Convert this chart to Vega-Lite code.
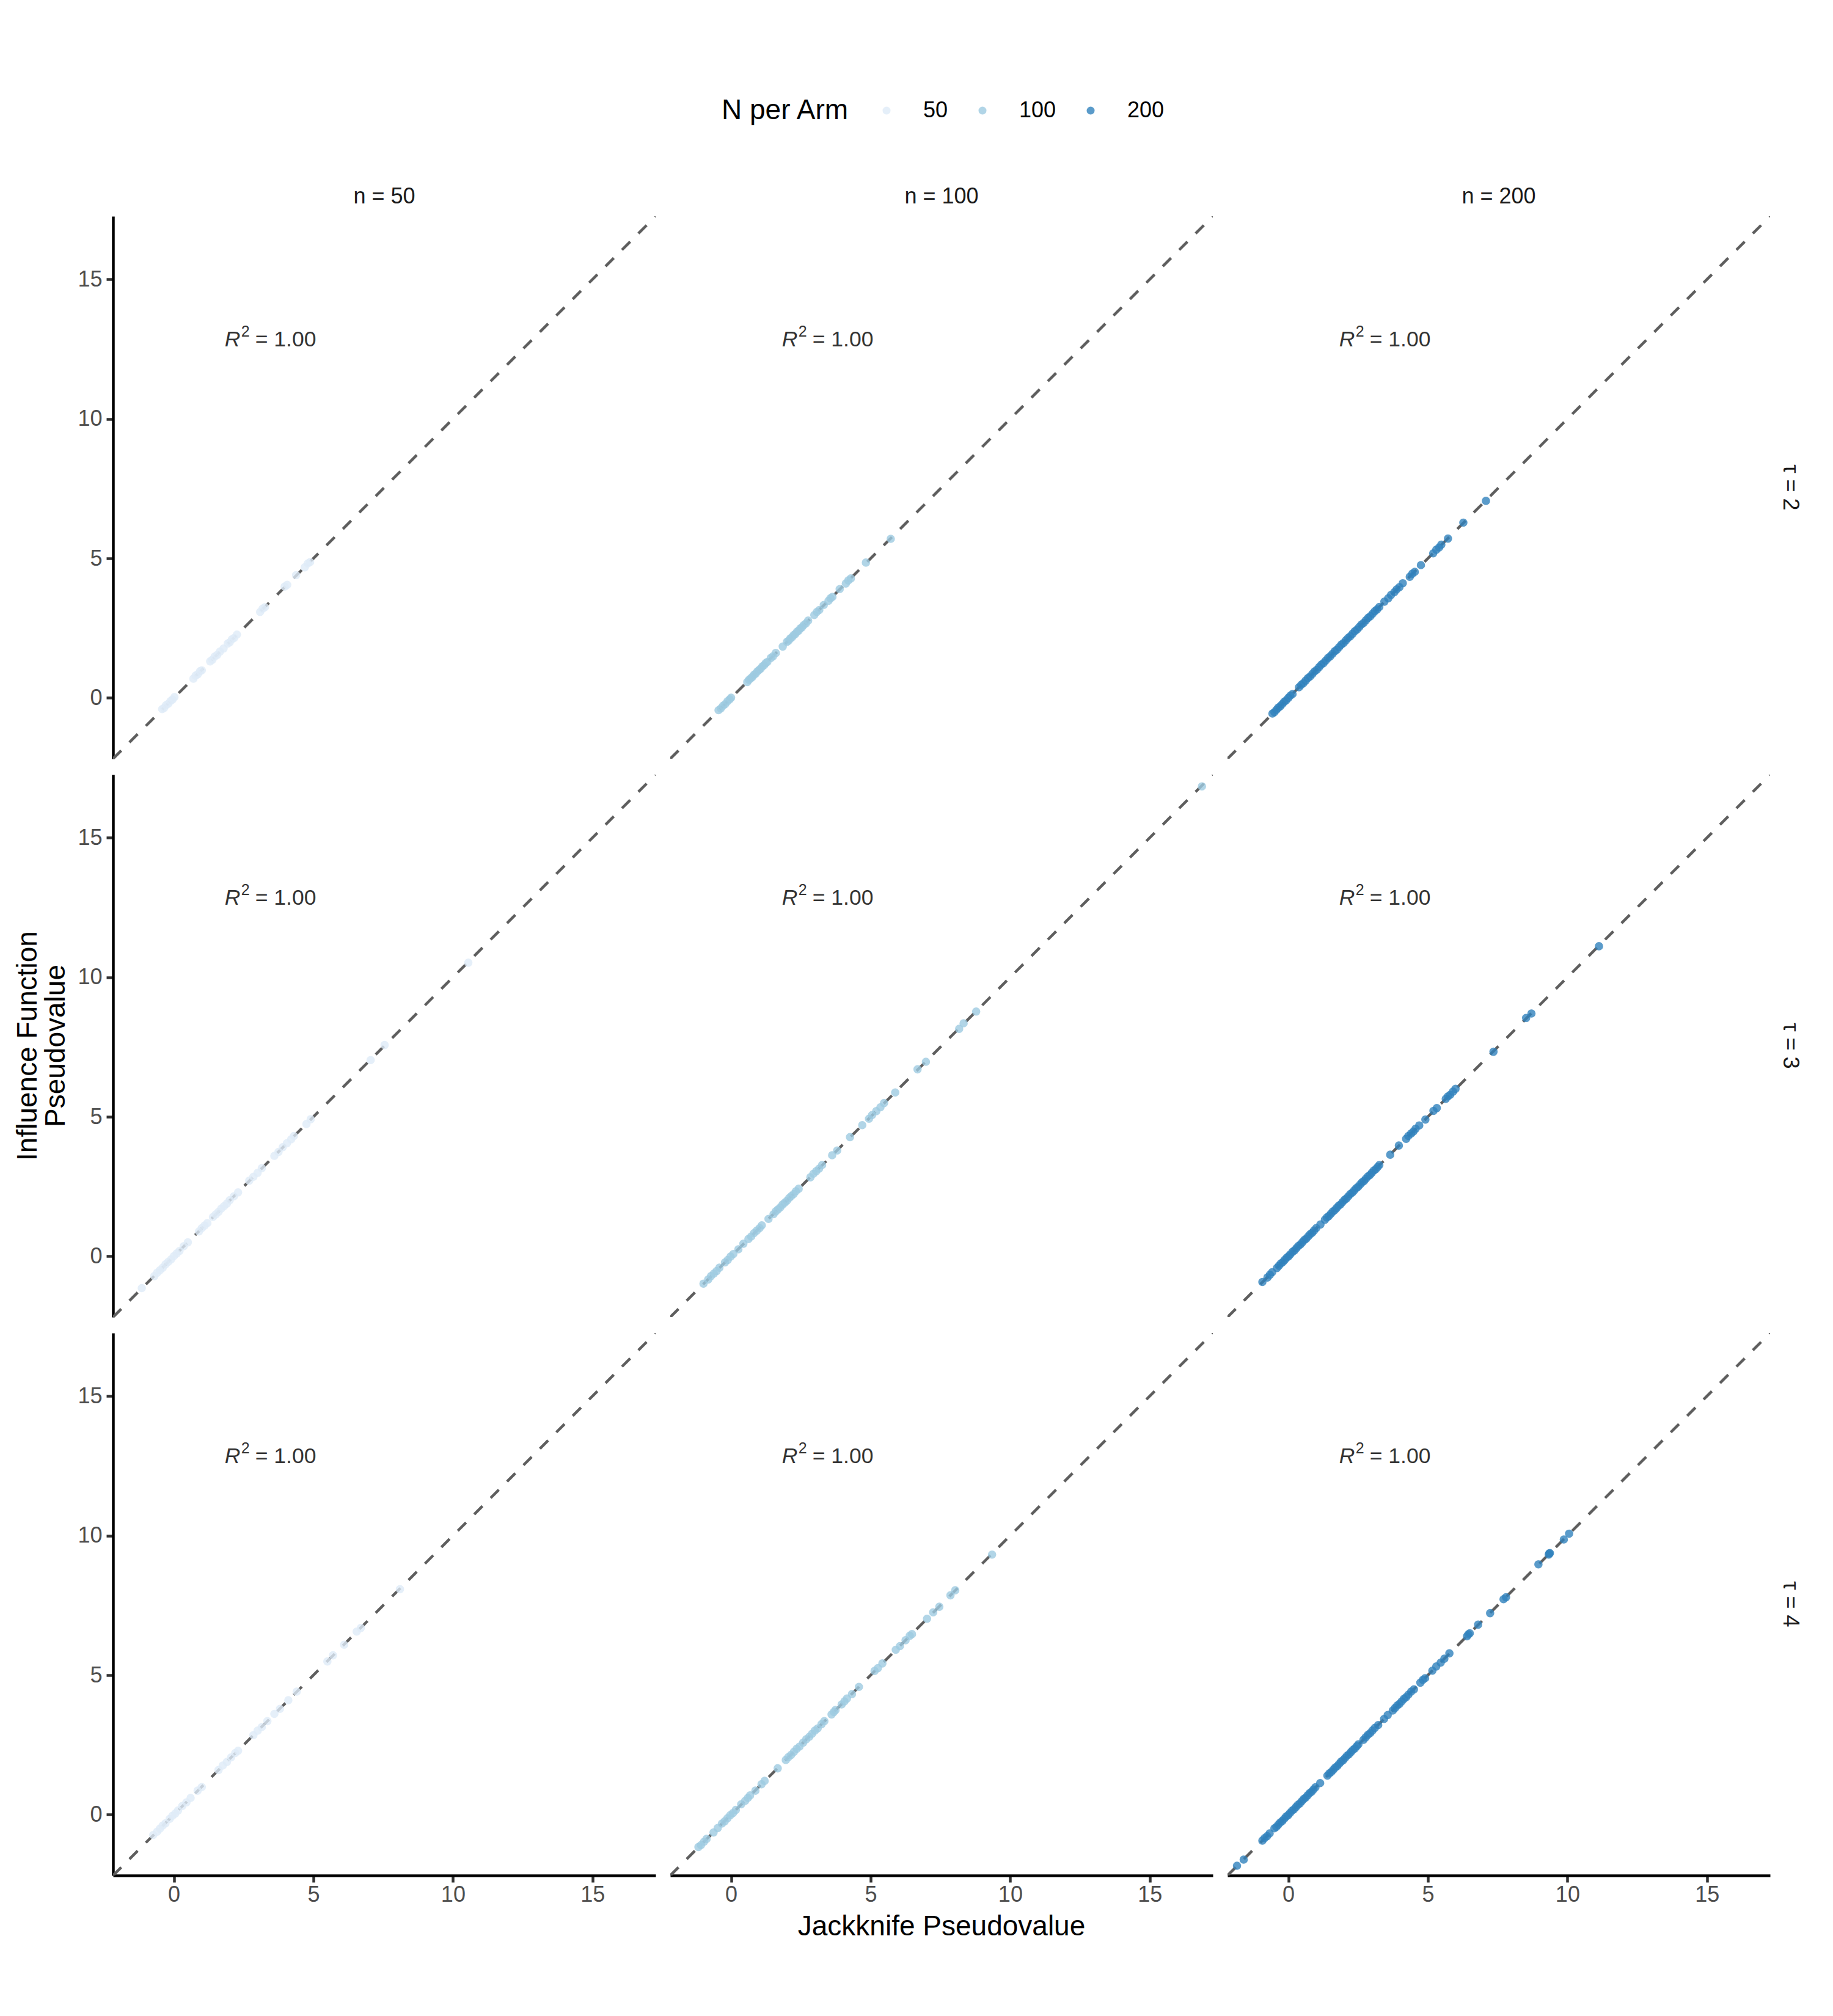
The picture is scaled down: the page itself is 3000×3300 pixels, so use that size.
{
  "$schema": "https://vega.github.io/schema/vega-lite/v6.json",
  "background": "white",
  "padding": {"left": 22, "top": 163, "right": 5, "bottom": 5},
  "data": {"values": [
    {"k":"l","t":2,"n":50,"x":-2.18,"y":-2.18},{"k":"l","t":2,"n":50,"x":17.26,"y":17.26},
    {"k":"l","t":2,"n":100,"x":-2.18,"y":-2.18},{"k":"l","t":2,"n":100,"x":17.26,"y":17.26},
    {"k":"l","t":2,"n":200,"x":-2.18,"y":-2.18},{"k":"l","t":2,"n":200,"x":17.26,"y":17.26},
    {"k":"l","t":3,"n":50,"x":-2.18,"y":-2.18},{"k":"l","t":3,"n":50,"x":17.26,"y":17.26},
    {"k":"l","t":3,"n":100,"x":-2.18,"y":-2.18},{"k":"l","t":3,"n":100,"x":17.26,"y":17.26},
    {"k":"l","t":3,"n":200,"x":-2.18,"y":-2.18},{"k":"l","t":3,"n":200,"x":17.26,"y":17.26},
    {"k":"l","t":4,"n":50,"x":-2.18,"y":-2.18},{"k":"l","t":4,"n":50,"x":17.26,"y":17.26},
    {"k":"l","t":4,"n":100,"x":-2.18,"y":-2.18},{"k":"l","t":4,"n":100,"x":17.26,"y":17.26},
    {"k":"l","t":4,"n":200,"x":-2.18,"y":-2.18},{"k":"l","t":4,"n":200,"x":17.26,"y":17.26},
    {"k":"r","t":2,"n":50,"x":1.82,"y":12.6},{"k":"r","t":2,"n":100,"x":1.82,"y":12.6},{"k":"r","t":2,"n":200,"x":1.82,"y":12.6},
    {"k":"r","t":3,"n":50,"x":1.82,"y":12.6},{"k":"r","t":3,"n":100,"x":1.82,"y":12.6},{"k":"r","t":3,"n":200,"x":1.82,"y":12.6},
    {"k":"r","t":4,"n":50,"x":1.82,"y":12.6},{"k":"r","t":4,"n":100,"x":1.82,"y":12.6},{"k":"r","t":4,"n":200,"x":1.82,"y":12.6},

    {"t":2,"n":50,"x":-0.42,"y":-0.4},{"t":2,"n":50,"x":-0.35,"y":-0.36},{"t":2,"n":50,"x":-0.28,"y":-0.26},{"t":2,"n":50,"x":-0.2,"y":-0.21},
    {"t":2,"n":50,"x":-0.12,"y":-0.11},{"t":2,"n":50,"x":-0.05,"y":-0.06},{"t":2,"n":50,"x":0.02,"y":0.03},{"t":2,"n":50,"x":0.7,"y":0.69},
    {"t":2,"n":50,"x":0.78,"y":0.8},{"t":2,"n":50,"x":0.86,"y":0.85},{"t":2,"n":50,"x":0.94,"y":0.96},{"t":2,"n":50,"x":1.0,"y":0.99},
    {"t":2,"n":50,"x":1.3,"y":1.31},{"t":2,"n":50,"x":1.38,"y":1.37},{"t":2,"n":50,"x":1.46,"y":1.48},{"t":2,"n":50,"x":1.55,"y":1.54},
    {"t":2,"n":50,"x":1.65,"y":1.66},{"t":2,"n":50,"x":1.78,"y":1.77},{"t":2,"n":50,"x":1.93,"y":1.95},{"t":2,"n":50,"x":2.0,"y":1.99},
    {"t":2,"n":50,"x":2.08,"y":2.1},{"t":2,"n":50,"x":2.16,"y":2.15},{"t":2,"n":50,"x":2.26,"y":2.27},{"t":2,"n":50,"x":3.09,"y":3.08},
    {"t":2,"n":50,"x":3.18,"y":3.2},{"t":2,"n":50,"x":3.26,"y":3.25},{"t":2,"n":50,"x":3.97,"y":3.99},{"t":2,"n":50,"x":4.06,"y":4.05},
    {"t":2,"n":50,"x":4.38,"y":4.4},{"t":2,"n":50,"x":4.69,"y":4.68},{"t":2,"n":50,"x":4.8,"y":4.82},{"t":2,"n":50,"x":4.88,"y":4.87},

    {"t":2,"n":100,"x":-0.45,"y":-0.44},{"t":2,"n":100,"x":-0.37,"y":-0.38},{"t":2,"n":100,"x":-0.29,"y":-0.28},{"t":2,"n":100,"x":-0.21,"y":-0.22},
    {"t":2,"n":100,"x":-0.13,"y":-0.12},{"t":2,"n":100,"x":-0.05,"y":-0.05},{"t":2,"n":100,"x":0.0,"y":0.01},{"t":2,"n":100,"x":0.58,"y":0.57},
    {"t":2,"n":100,"x":0.64,"y":0.65},{"t":2,"n":100,"x":0.7,"y":0.7},{"t":2,"n":100,"x":0.76,"y":0.75},{"t":2,"n":100,"x":0.82,"y":0.83},
    {"t":2,"n":100,"x":0.88,"y":0.87},{"t":2,"n":100,"x":0.94,"y":0.95},{"t":2,"n":100,"x":1.0,"y":1.0},{"t":2,"n":100,"x":1.06,"y":1.05},
    {"t":2,"n":100,"x":1.12,"y":1.13},{"t":2,"n":100,"x":1.18,"y":1.17},{"t":2,"n":100,"x":1.24,"y":1.25},{"t":2,"n":100,"x":1.3,"y":1.29},
    {"t":2,"n":100,"x":1.42,"y":1.43},{"t":2,"n":100,"x":1.5,"y":1.49},{"t":2,"n":100,"x":1.6,"y":1.61},{"t":2,"n":100,"x":1.85,"y":1.84},
    {"t":2,"n":100,"x":2.0,"y":2.01},{"t":2,"n":100,"x":2.06,"y":2.05},{"t":2,"n":100,"x":2.12,"y":2.13},{"t":2,"n":100,"x":2.18,"y":2.17},
    {"t":2,"n":100,"x":2.24,"y":2.25},{"t":2,"n":100,"x":2.3,"y":2.29},{"t":2,"n":100,"x":2.36,"y":2.37},{"t":2,"n":100,"x":2.42,"y":2.41},
    {"t":2,"n":100,"x":2.48,"y":2.49},{"t":2,"n":100,"x":2.54,"y":2.53},{"t":2,"n":100,"x":2.6,"y":2.61},{"t":2,"n":100,"x":2.68,"y":2.67},
    {"t":2,"n":100,"x":2.76,"y":2.77},{"t":2,"n":100,"x":2.98,"y":2.97},{"t":2,"n":100,"x":3.07,"y":3.08},{"t":2,"n":100,"x":3.16,"y":3.15},
    {"t":2,"n":100,"x":3.32,"y":3.33},{"t":2,"n":100,"x":3.49,"y":3.48},{"t":2,"n":100,"x":3.56,"y":3.57},{"t":2,"n":100,"x":3.63,"y":3.62},
    {"t":2,"n":100,"x":3.89,"y":3.9},{"t":2,"n":100,"x":4.11,"y":4.1},{"t":2,"n":100,"x":4.2,"y":4.21},{"t":2,"n":100,"x":4.29,"y":4.28},
    {"t":2,"n":100,"x":4.83,"y":4.85},{"t":2,"n":100,"x":5.72,"y":5.7},

    {"t":2,"n":200,"x":-0.57,"y":-0.56},{"t":2,"n":200,"x":-0.5,"y":-0.51},{"t":2,"n":200,"x":-0.43,"y":-0.43},{"t":2,"n":200,"x":-0.36,"y":-0.35},
    {"t":2,"n":200,"x":-0.29,"y":-0.3},{"t":2,"n":200,"x":-0.22,"y":-0.22},{"t":2,"n":200,"x":-0.15,"y":-0.14},{"t":2,"n":200,"x":-0.08,"y":-0.09},
    {"t":2,"n":200,"x":0.0,"y":0.0},{"t":2,"n":200,"x":0.07,"y":0.08},{"t":2,"n":200,"x":0.15,"y":0.14},{"t":2,"n":200,"x":0.38,"y":0.38},
    {"t":2,"n":200,"x":0.46,"y":0.47},{"t":2,"n":200,"x":0.54,"y":0.53},{"t":2,"n":200,"x":0.62,"y":0.62},{"t":2,"n":200,"x":0.7,"y":0.71},
    {"t":2,"n":200,"x":0.78,"y":0.77},{"t":2,"n":200,"x":0.86,"y":0.86},{"t":2,"n":200,"x":0.94,"y":0.95},{"t":2,"n":200,"x":1.02,"y":1.01},
    {"t":2,"n":200,"x":1.1,"y":1.1},{"t":2,"n":200,"x":1.18,"y":1.19},{"t":2,"n":200,"x":1.26,"y":1.25},{"t":2,"n":200,"x":1.34,"y":1.34},
    {"t":2,"n":200,"x":1.42,"y":1.43},{"t":2,"n":200,"x":1.5,"y":1.49},{"t":2,"n":200,"x":1.58,"y":1.58},{"t":2,"n":200,"x":1.66,"y":1.67},
    {"t":2,"n":200,"x":1.74,"y":1.73},{"t":2,"n":200,"x":1.82,"y":1.82},{"t":2,"n":200,"x":1.9,"y":1.91},{"t":2,"n":200,"x":1.98,"y":1.97},
    {"t":2,"n":200,"x":2.06,"y":2.06},{"t":2,"n":200,"x":2.14,"y":2.15},{"t":2,"n":200,"x":2.22,"y":2.21},{"t":2,"n":200,"x":2.3,"y":2.3},
    {"t":2,"n":200,"x":2.38,"y":2.39},{"t":2,"n":200,"x":2.46,"y":2.45},{"t":2,"n":200,"x":2.54,"y":2.54},{"t":2,"n":200,"x":2.62,"y":2.63},
    {"t":2,"n":200,"x":2.7,"y":2.69},{"t":2,"n":200,"x":2.78,"y":2.78},{"t":2,"n":200,"x":2.86,"y":2.87},{"t":2,"n":200,"x":2.94,"y":2.93},
    {"t":2,"n":200,"x":3.02,"y":3.02},{"t":2,"n":200,"x":3.1,"y":3.11},{"t":2,"n":200,"x":3.18,"y":3.17},{"t":2,"n":200,"x":3.26,"y":3.26},
    {"t":2,"n":200,"x":3.44,"y":3.45},{"t":2,"n":200,"x":3.58,"y":3.57},{"t":2,"n":200,"x":3.68,"y":3.69},{"t":2,"n":200,"x":3.8,"y":3.79},
    {"t":2,"n":200,"x":3.88,"y":3.89},{"t":2,"n":200,"x":3.98,"y":3.97},{"t":2,"n":200,"x":4.1,"y":4.11},{"t":2,"n":200,"x":4.35,"y":4.34},
    {"t":2,"n":200,"x":4.44,"y":4.45},{"t":2,"n":200,"x":4.53,"y":4.52},{"t":2,"n":200,"x":4.75,"y":4.76},{"t":2,"n":200,"x":5.19,"y":5.18},
    {"t":2,"n":200,"x":5.3,"y":5.31},{"t":2,"n":200,"x":5.4,"y":5.39},{"t":2,"n":200,"x":5.48,"y":5.49},{"t":2,"n":200,"x":5.72,"y":5.71},
    {"t":2,"n":200,"x":6.27,"y":6.28},{"t":2,"n":200,"x":7.08,"y":7.06},

    {"t":3,"n":50,"x":-1.15,"y":-1.14},{"t":3,"n":50,"x":-0.7,"y":-0.71},{"t":3,"n":50,"x":-0.6,"y":-0.59},{"t":3,"n":50,"x":-0.5,"y":-0.5},
    {"t":3,"n":50,"x":-0.4,"y":-0.41},{"t":3,"n":50,"x":-0.3,"y":-0.29},{"t":3,"n":50,"x":-0.2,"y":-0.2},{"t":3,"n":50,"x":-0.1,"y":-0.11},
    {"t":3,"n":50,"x":0.0,"y":0.01},{"t":3,"n":50,"x":0.1,"y":0.1},{"t":3,"n":50,"x":0.2,"y":0.19},{"t":3,"n":50,"x":0.35,"y":0.36},
    {"t":3,"n":50,"x":0.5,"y":0.5},{"t":3,"n":50,"x":0.9,"y":0.89},{"t":3,"n":50,"x":1.0,"y":1.01},{"t":3,"n":50,"x":1.1,"y":1.1},
    {"t":3,"n":50,"x":1.2,"y":1.19},{"t":3,"n":50,"x":1.4,"y":1.41},{"t":3,"n":50,"x":1.5,"y":1.5},{"t":3,"n":50,"x":1.6,"y":1.59},
    {"t":3,"n":50,"x":1.7,"y":1.71},{"t":3,"n":50,"x":1.8,"y":1.8},{"t":3,"n":50,"x":1.9,"y":1.89},{"t":3,"n":50,"x":2.0,"y":2.01},
    {"t":3,"n":50,"x":2.15,"y":2.15},{"t":3,"n":50,"x":2.3,"y":2.29},{"t":3,"n":50,"x":2.7,"y":2.71},{"t":3,"n":50,"x":2.85,"y":2.85},
    {"t":3,"n":50,"x":3.0,"y":2.99},{"t":3,"n":50,"x":3.15,"y":3.16},{"t":3,"n":50,"x":3.6,"y":3.6},{"t":3,"n":50,"x":3.75,"y":3.74},
    {"t":3,"n":50,"x":3.9,"y":3.91},{"t":3,"n":50,"x":4.05,"y":4.05},{"t":3,"n":50,"x":4.2,"y":4.19},{"t":3,"n":50,"x":4.3,"y":4.31},
    {"t":3,"n":50,"x":4.75,"y":4.74},{"t":3,"n":50,"x":4.9,"y":4.91},{"t":3,"n":50,"x":7.05,"y":7.03},{"t":3,"n":50,"x":7.55,"y":7.57},
    {"t":3,"n":50,"x":10.55,"y":10.52},

    {"t":3,"n":100,"x":-0.99,"y":-0.98},{"t":3,"n":100,"x":-0.82,"y":-0.83},{"t":3,"n":100,"x":-0.72,"y":-0.71},{"t":3,"n":100,"x":-0.62,"y":-0.62},
    {"t":3,"n":100,"x":-0.52,"y":-0.53},{"t":3,"n":100,"x":-0.42,"y":-0.41},{"t":3,"n":100,"x":-0.22,"y":-0.22},{"t":3,"n":100,"x":-0.12,"y":-0.13},
    {"t":3,"n":100,"x":-0.02,"y":-0.01},{"t":3,"n":100,"x":0.08,"y":0.08},{"t":3,"n":100,"x":0.26,"y":0.25},{"t":3,"n":100,"x":0.44,"y":0.45},
    {"t":3,"n":100,"x":0.62,"y":0.62},{"t":3,"n":100,"x":0.72,"y":0.71},{"t":3,"n":100,"x":0.82,"y":0.83},{"t":3,"n":100,"x":0.92,"y":0.92},
    {"t":3,"n":100,"x":1.02,"y":1.01},{"t":3,"n":100,"x":1.1,"y":1.11},{"t":3,"n":100,"x":1.34,"y":1.34},{"t":3,"n":100,"x":1.52,"y":1.51},
    {"t":3,"n":100,"x":1.6,"y":1.61},{"t":3,"n":100,"x":1.68,"y":1.68},{"t":3,"n":100,"x":1.76,"y":1.75},{"t":3,"n":100,"x":1.84,"y":1.85},
    {"t":3,"n":100,"x":1.92,"y":1.92},{"t":3,"n":100,"x":2.0,"y":1.99},{"t":3,"n":100,"x":2.08,"y":2.09},{"t":3,"n":100,"x":2.16,"y":2.16},
    {"t":3,"n":100,"x":2.24,"y":2.23},{"t":3,"n":100,"x":2.32,"y":2.33},{"t":3,"n":100,"x":2.42,"y":2.42},{"t":3,"n":100,"x":2.84,"y":2.83},
    {"t":3,"n":100,"x":2.95,"y":2.96},{"t":3,"n":100,"x":3.05,"y":3.05},{"t":3,"n":100,"x":3.15,"y":3.14},{"t":3,"n":100,"x":3.26,"y":3.27},
    {"t":3,"n":100,"x":3.62,"y":3.62},{"t":3,"n":100,"x":3.8,"y":3.79},{"t":3,"n":100,"x":4.26,"y":4.27},{"t":3,"n":100,"x":4.7,"y":4.7},
    {"t":3,"n":100,"x":4.94,"y":4.93},{"t":3,"n":100,"x":5.05,"y":5.06},{"t":3,"n":100,"x":5.2,"y":5.2},{"t":3,"n":100,"x":5.35,"y":5.34},
    {"t":3,"n":100,"x":5.48,"y":5.49},{"t":3,"n":100,"x":5.88,"y":5.87},{"t":3,"n":100,"x":6.68,"y":6.7},{"t":3,"n":100,"x":6.98,"y":6.97},
    {"t":3,"n":100,"x":8.17,"y":8.15},{"t":3,"n":100,"x":8.33,"y":8.35},{"t":3,"n":100,"x":8.78,"y":8.77},{"t":3,"n":100,"x":16.87,"y":16.84},

    {"t":3,"n":200,"x":-0.93,"y":-0.92},{"t":3,"n":200,"x":-0.75,"y":-0.76},{"t":3,"n":200,"x":-0.66,"y":-0.66},{"t":3,"n":200,"x":-0.58,"y":-0.57},
    {"t":3,"n":200,"x":-0.41,"y":-0.42},{"t":3,"n":200,"x":-0.34,"y":-0.34},{"t":3,"n":200,"x":-0.27,"y":-0.26},{"t":3,"n":200,"x":-0.2,"y":-0.21},
    {"t":3,"n":200,"x":-0.13,"y":-0.13},{"t":3,"n":200,"x":-0.06,"y":-0.05},{"t":3,"n":200,"x":0.01,"y":0.0},{"t":3,"n":200,"x":0.07,"y":0.07},
    {"t":3,"n":200,"x":0.15,"y":0.16},{"t":3,"n":200,"x":0.22,"y":0.21},{"t":3,"n":200,"x":0.29,"y":0.29},{"t":3,"n":200,"x":0.36,"y":0.37},
    {"t":3,"n":200,"x":0.43,"y":0.42},{"t":3,"n":200,"x":0.5,"y":0.5},{"t":3,"n":200,"x":0.57,"y":0.58},{"t":3,"n":200,"x":0.64,"y":0.63},
    {"t":3,"n":200,"x":0.71,"y":0.71},{"t":3,"n":200,"x":0.78,"y":0.79},{"t":3,"n":200,"x":0.85,"y":0.84},{"t":3,"n":200,"x":0.92,"y":0.92},
    {"t":3,"n":200,"x":1.0,"y":1.01},{"t":3,"n":200,"x":1.15,"y":1.14},{"t":3,"n":200,"x":1.31,"y":1.31},{"t":3,"n":200,"x":1.38,"y":1.39},
    {"t":3,"n":200,"x":1.45,"y":1.44},{"t":3,"n":200,"x":1.52,"y":1.52},{"t":3,"n":200,"x":1.59,"y":1.6},{"t":3,"n":200,"x":1.66,"y":1.65},
    {"t":3,"n":200,"x":1.73,"y":1.73},{"t":3,"n":200,"x":1.8,"y":1.81},{"t":3,"n":200,"x":1.87,"y":1.86},{"t":3,"n":200,"x":1.94,"y":1.94},
    {"t":3,"n":200,"x":2.01,"y":2.02},{"t":3,"n":200,"x":2.08,"y":2.07},{"t":3,"n":200,"x":2.15,"y":2.15},{"t":3,"n":200,"x":2.22,"y":2.23},
    {"t":3,"n":200,"x":2.29,"y":2.28},{"t":3,"n":200,"x":2.36,"y":2.36},{"t":3,"n":200,"x":2.43,"y":2.44},{"t":3,"n":200,"x":2.5,"y":2.49},
    {"t":3,"n":200,"x":2.57,"y":2.57},{"t":3,"n":200,"x":2.64,"y":2.65},{"t":3,"n":200,"x":2.71,"y":2.7},{"t":3,"n":200,"x":2.78,"y":2.78},
    {"t":3,"n":200,"x":2.85,"y":2.86},{"t":3,"n":200,"x":2.92,"y":2.91},{"t":3,"n":200,"x":2.99,"y":2.99},{"t":3,"n":200,"x":3.06,"y":3.07},
    {"t":3,"n":200,"x":3.13,"y":3.12},{"t":3,"n":200,"x":3.2,"y":3.2},{"t":3,"n":200,"x":3.26,"y":3.27},{"t":3,"n":200,"x":3.65,"y":3.64},
    {"t":3,"n":200,"x":3.96,"y":3.97},{"t":3,"n":200,"x":4.22,"y":4.21},{"t":3,"n":200,"x":4.3,"y":4.31},{"t":3,"n":200,"x":4.4,"y":4.4},
    {"t":3,"n":200,"x":4.48,"y":4.47},{"t":3,"n":200,"x":4.56,"y":4.57},{"t":3,"n":200,"x":4.69,"y":4.69},{"t":3,"n":200,"x":4.91,"y":4.9},
    {"t":3,"n":200,"x":5.2,"y":5.21},{"t":3,"n":200,"x":5.32,"y":5.31},{"t":3,"n":200,"x":5.64,"y":5.64},{"t":3,"n":200,"x":5.72,"y":5.73},
    {"t":3,"n":200,"x":5.8,"y":5.79},{"t":3,"n":200,"x":5.9,"y":5.9},{"t":3,"n":200,"x":5.99,"y":6.0},{"t":3,"n":200,"x":7.35,"y":7.33},
    {"t":3,"n":200,"x":8.52,"y":8.54},{"t":3,"n":200,"x":8.71,"y":8.7},{"t":3,"n":200,"x":11.13,"y":11.11},

    {"t":4,"n":50,"x":-0.74,"y":-0.73},{"t":4,"n":50,"x":-0.6,"y":-0.61},{"t":4,"n":50,"x":-0.5,"y":-0.5},{"t":4,"n":50,"x":-0.4,"y":-0.39},
    {"t":4,"n":50,"x":-0.3,"y":-0.31},{"t":4,"n":50,"x":-0.15,"y":-0.15},{"t":4,"n":50,"x":-0.05,"y":-0.04},{"t":4,"n":50,"x":0.05,"y":0.04},
    {"t":4,"n":50,"x":0.15,"y":0.15},{"t":4,"n":50,"x":0.3,"y":0.31},{"t":4,"n":50,"x":0.45,"y":0.44},{"t":4,"n":50,"x":0.6,"y":0.6},
    {"t":4,"n":50,"x":0.85,"y":0.86},{"t":4,"n":50,"x":1.0,"y":0.99},{"t":4,"n":50,"x":1.6,"y":1.6},{"t":4,"n":50,"x":1.75,"y":1.76},
    {"t":4,"n":50,"x":1.9,"y":1.89},{"t":4,"n":50,"x":2.05,"y":2.05},{"t":4,"n":50,"x":2.2,"y":2.21},{"t":4,"n":50,"x":2.3,"y":2.29},
    {"t":4,"n":50,"x":2.85,"y":2.85},{"t":4,"n":50,"x":3.0,"y":3.01},{"t":4,"n":50,"x":3.15,"y":3.14},{"t":4,"n":50,"x":3.35,"y":3.35},
    {"t":4,"n":50,"x":3.6,"y":3.61},{"t":4,"n":50,"x":3.8,"y":3.79},{"t":4,"n":50,"x":4.1,"y":4.1},{"t":4,"n":50,"x":4.4,"y":4.41},
    {"t":4,"n":50,"x":5.5,"y":5.49},{"t":4,"n":50,"x":5.7,"y":5.71},{"t":4,"n":50,"x":6.1,"y":6.09},{"t":4,"n":50,"x":6.55,"y":6.56},
    {"t":4,"n":50,"x":6.7,"y":6.69},{"t":4,"n":50,"x":8.1,"y":8.08},

    {"t":4,"n":100,"x":-1.17,"y":-1.16},{"t":4,"n":100,"x":-1.08,"y":-1.09},{"t":4,"n":100,"x":-0.97,"y":-0.97},{"t":4,"n":100,"x":-0.88,"y":-0.87},
    {"t":4,"n":100,"x":-0.63,"y":-0.64},{"t":4,"n":100,"x":-0.48,"y":-0.48},{"t":4,"n":100,"x":-0.33,"y":-0.32},{"t":4,"n":100,"x":-0.23,"y":-0.24},
    {"t":4,"n":100,"x":-0.13,"y":-0.13},{"t":4,"n":100,"x":-0.03,"y":-0.02},{"t":4,"n":100,"x":0.07,"y":0.06},{"t":4,"n":100,"x":0.17,"y":0.17},
    {"t":4,"n":100,"x":0.36,"y":0.37},{"t":4,"n":100,"x":0.5,"y":0.49},{"t":4,"n":100,"x":0.6,"y":0.6},{"t":4,"n":100,"x":0.68,"y":0.69},
    {"t":4,"n":100,"x":0.87,"y":0.86},{"t":4,"n":100,"x":1.09,"y":1.09},{"t":4,"n":100,"x":1.2,"y":1.21},{"t":4,"n":100,"x":1.67,"y":1.66},
    {"t":4,"n":100,"x":1.96,"y":1.96},{"t":4,"n":100,"x":2.05,"y":2.06},{"t":4,"n":100,"x":2.15,"y":2.14},{"t":4,"n":100,"x":2.25,"y":2.25},
    {"t":4,"n":100,"x":2.35,"y":2.36},{"t":4,"n":100,"x":2.45,"y":2.44},{"t":4,"n":100,"x":2.58,"y":2.58},{"t":4,"n":100,"x":2.69,"y":2.7},
    {"t":4,"n":100,"x":2.8,"y":2.79},{"t":4,"n":100,"x":2.9,"y":2.9},{"t":4,"n":100,"x":3.0,"y":3.01},{"t":4,"n":100,"x":3.1,"y":3.09},
    {"t":4,"n":100,"x":3.24,"y":3.24},{"t":4,"n":100,"x":3.34,"y":3.35},{"t":4,"n":100,"x":3.6,"y":3.59},{"t":4,"n":100,"x":3.68,"y":3.68},
    {"t":4,"n":100,"x":3.74,"y":3.75},{"t":4,"n":100,"x":3.96,"y":3.95},{"t":4,"n":100,"x":4.06,"y":4.06},{"t":4,"n":100,"x":4.15,"y":4.16},
    {"t":4,"n":100,"x":4.33,"y":4.32},{"t":4,"n":100,"x":4.58,"y":4.58},{"t":4,"n":100,"x":5.14,"y":5.15},{"t":4,"n":100,"x":5.26,"y":5.25},
    {"t":4,"n":100,"x":5.42,"y":5.42},{"t":4,"n":100,"x":5.9,"y":5.91},{"t":4,"n":100,"x":6.05,"y":6.04},{"t":4,"n":100,"x":6.25,"y":6.25},
    {"t":4,"n":100,"x":6.4,"y":6.41},{"t":4,"n":100,"x":6.48,"y":6.47},{"t":4,"n":100,"x":7.02,"y":7.02},{"t":4,"n":100,"x":7.24,"y":7.25},
    {"t":4,"n":100,"x":7.46,"y":7.45},{"t":4,"n":100,"x":7.86,"y":7.86},{"t":4,"n":100,"x":8.03,"y":8.04},{"t":4,"n":100,"x":9.35,"y":9.32},

    {"t":4,"n":200,"x":-1.84,"y":-1.83},{"t":4,"n":200,"x":-1.6,"y":-1.61},{"t":4,"n":200,"x":-0.93,"y":-0.93},{"t":4,"n":200,"x":-0.85,"y":-0.84},
    {"t":4,"n":200,"x":-0.76,"y":-0.77},{"t":4,"n":200,"x":-0.67,"y":-0.67},{"t":4,"n":200,"x":-0.5,"y":-0.49},{"t":4,"n":200,"x":-0.43,"y":-0.44},
    {"t":4,"n":200,"x":-0.36,"y":-0.36},{"t":4,"n":200,"x":-0.29,"y":-0.28},{"t":4,"n":200,"x":-0.22,"y":-0.23},{"t":4,"n":200,"x":-0.15,"y":-0.15},
    {"t":4,"n":200,"x":-0.08,"y":-0.07},{"t":4,"n":200,"x":-0.01,"y":-0.02},{"t":4,"n":200,"x":0.06,"y":0.06},{"t":4,"n":200,"x":0.13,"y":0.14},
    {"t":4,"n":200,"x":0.2,"y":0.19},{"t":4,"n":200,"x":0.27,"y":0.27},{"t":4,"n":200,"x":0.34,"y":0.35},{"t":4,"n":200,"x":0.41,"y":0.4},
    {"t":4,"n":200,"x":0.48,"y":0.48},{"t":4,"n":200,"x":0.55,"y":0.56},{"t":4,"n":200,"x":0.62,"y":0.61},{"t":4,"n":200,"x":0.69,"y":0.69},
    {"t":4,"n":200,"x":0.76,"y":0.77},{"t":4,"n":200,"x":0.83,"y":0.82},{"t":4,"n":200,"x":0.9,"y":0.9},{"t":4,"n":200,"x":0.97,"y":0.98},
    {"t":4,"n":200,"x":1.14,"y":1.13},{"t":4,"n":200,"x":1.4,"y":1.4},{"t":4,"n":200,"x":1.47,"y":1.48},{"t":4,"n":200,"x":1.54,"y":1.53},
    {"t":4,"n":200,"x":1.61,"y":1.61},{"t":4,"n":200,"x":1.68,"y":1.69},{"t":4,"n":200,"x":1.75,"y":1.74},{"t":4,"n":200,"x":1.82,"y":1.82},
    {"t":4,"n":200,"x":1.89,"y":1.9},{"t":4,"n":200,"x":1.96,"y":1.95},{"t":4,"n":200,"x":2.03,"y":2.03},{"t":4,"n":200,"x":2.1,"y":2.11},
    {"t":4,"n":200,"x":2.17,"y":2.16},{"t":4,"n":200,"x":2.24,"y":2.24},{"t":4,"n":200,"x":2.31,"y":2.32},{"t":4,"n":200,"x":2.38,"y":2.37},
    {"t":4,"n":200,"x":2.45,"y":2.45},{"t":4,"n":200,"x":2.51,"y":2.52},{"t":4,"n":200,"x":2.69,"y":2.68},{"t":4,"n":200,"x":2.77,"y":2.77},
    {"t":4,"n":200,"x":2.85,"y":2.86},{"t":4,"n":200,"x":2.93,"y":2.92},{"t":4,"n":200,"x":3.01,"y":3.01},{"t":4,"n":200,"x":3.1,"y":3.11},
    {"t":4,"n":200,"x":3.22,"y":3.21},{"t":4,"n":200,"x":3.43,"y":3.43},{"t":4,"n":200,"x":3.56,"y":3.57},{"t":4,"n":200,"x":3.74,"y":3.73},
    {"t":4,"n":200,"x":3.82,"y":3.82},{"t":4,"n":200,"x":3.9,"y":3.91},{"t":4,"n":200,"x":3.98,"y":3.97},{"t":4,"n":200,"x":4.06,"y":4.06},
    {"t":4,"n":200,"x":4.14,"y":4.15},{"t":4,"n":200,"x":4.22,"y":4.21},{"t":4,"n":200,"x":4.3,"y":4.3},{"t":4,"n":200,"x":4.4,"y":4.41},
    {"t":4,"n":200,"x":4.5,"y":4.49},{"t":4,"n":200,"x":4.73,"y":4.73},{"t":4,"n":200,"x":4.82,"y":4.83},{"t":4,"n":200,"x":4.9,"y":4.89},
    {"t":4,"n":200,"x":5.16,"y":5.16},{"t":4,"n":200,"x":5.3,"y":5.31},{"t":4,"n":200,"x":5.46,"y":5.45},{"t":4,"n":200,"x":5.59,"y":5.59},
    {"t":4,"n":200,"x":5.77,"y":5.78},{"t":4,"n":200,"x":6.4,"y":6.39},{"t":4,"n":200,"x":6.45,"y":6.46},{"t":4,"n":200,"x":6.5,"y":6.5},
    {"t":4,"n":200,"x":6.8,"y":6.81},{"t":4,"n":200,"x":7.23,"y":7.22},{"t":4,"n":200,"x":7.71,"y":7.72},{"t":4,"n":200,"x":7.8,"y":7.79},
    {"t":4,"n":200,"x":8.96,"y":8.97},{"t":4,"n":200,"x":9.33,"y":9.32},{"t":4,"n":200,"x":9.35,"y":9.36},{"t":4,"n":200,"x":9.37,"y":9.37},
    {"t":4,"n":200,"x":9.87,"y":9.86},{"t":4,"n":200,"x":10.06,"y":10.07}
  ]},
  "facet": {
    "row": {"field": "t", "type": "ordinal", "title": ["Influence Function", "Pseudovalue"],
      "header": {"labelExpr": "'τ = ' + datum.value", "labelOrient": "right", "labelAngle": 90, "labelFontSize": 36, "labelColor": "#1a1a1a", "labelPadding": -3, "labelBaseline": "middle", "labelAlign": "center",
        "titleOrient": "left", "titleFontSize": 46, "titleFontWeight": "normal", "titleColor": "#000000", "titleLineHeight": 46, "titlePadding": 0}},
    "column": {"field": "n", "type": "ordinal", "title": "Jackknife Pseudovalue",
      "header": {"labelExpr": "'n = ' + datum.value", "labelOrient": "top", "labelFontSize": 36, "labelColor": "#1a1a1a", "labelPadding": -4, "labelBaseline": "middle",
        "titleOrient": "bottom", "titleFontSize": 46, "titleFontWeight": "normal", "titleColor": "#000000", "titlePadding": 3}}
  },
  "spacing": {"row": 26, "column": 24},
  "spec": {
    "width": 888,
    "height": 888,
    "encoding": {
      "x": {"field": "x", "type": "quantitative", "title": null,
        "scale": {"domain": [-2.18, 17.26], "nice": false, "zero": false},
        "axis": {"values": [0, 5, 10, 15], "labelPadding": 3}},
      "y": {"field": "y", "type": "quantitative", "title": null,
        "scale": {"domain": [-2.18, 17.26], "nice": false, "zero": false},
        "axis": {"values": [0, 5, 10, 15], "labelPadding": 7}}
    },
    "layer": [
      {"transform": [{"filter": "datum.k === 'l'"}],
       "mark": {"type": "line", "color": "#5e5e5e", "strokeWidth": 4.5, "strokeDash": [19, 19], "clip": true},
       "encoding": {}},
      {"transform": [{"filter": "!datum.k"}],
       "mark": {"type": "circle", "size": 185, "opacity": 0.8},
       "encoding": {
         "color": {"field": "n", "type": "ordinal", "title": "N per Arm",
           "scale": {"domain": [50, 100, 200], "range": ["#deebf7", "#9ecae1", "#3182bd"]},
           "legend": {"orient": "none", "direction": "horizontal", "legendX": 996, "legendY": -191, "titleOrient": "left"}}
       }},
      {"transform": [{"filter": "datum.k === 'r'"}],
       "mark": {"type": "text", "text": "R", "fontStyle": "italic", "fontSize": 35.5, "align": "left", "baseline": "alphabetic", "color": "#333333"}},
      {"transform": [{"filter": "datum.k === 'r'"}],
       "mark": {"type": "text", "text": "2", "fontSize": 25, "align": "left", "baseline": "alphabetic", "dx": 27, "dy": -16, "color": "#333333"}},
      {"transform": [{"filter": "datum.k === 'r'"}],
       "mark": {"type": "text", "text": "= 1.00", "fontSize": 35.5, "align": "left", "baseline": "alphabetic", "dx": 50, "color": "#333333"}}
    ]
  },
  "config": {
    "font": "Liberation Sans",
    "view": {"stroke": null},
    "axis": {"grid": false, "domainColor": "#000000", "domainWidth": 4.5, "tickColor": "#333333", "tickWidth": 4.5, "tickSize": 11,
      "labelFontSize": 36, "labelColor": "#4d4d4d", "labelFlush": false},
    "legend": {"titleFontSize": 46, "titleFontWeight": "normal", "titleColor": "#000000", "titleLimit": 2000, "labelFontSize": 36, "labelColor": "#000000",
      "symbolSize": 170, "symbolType": "circle", "symbolOpacity": 0.8, "labelOffset": 42, "columnPadding": 38, "titlePadding": 42, "titleBaseline": "middle", "labelBaseline": "middle"}
  }
}
